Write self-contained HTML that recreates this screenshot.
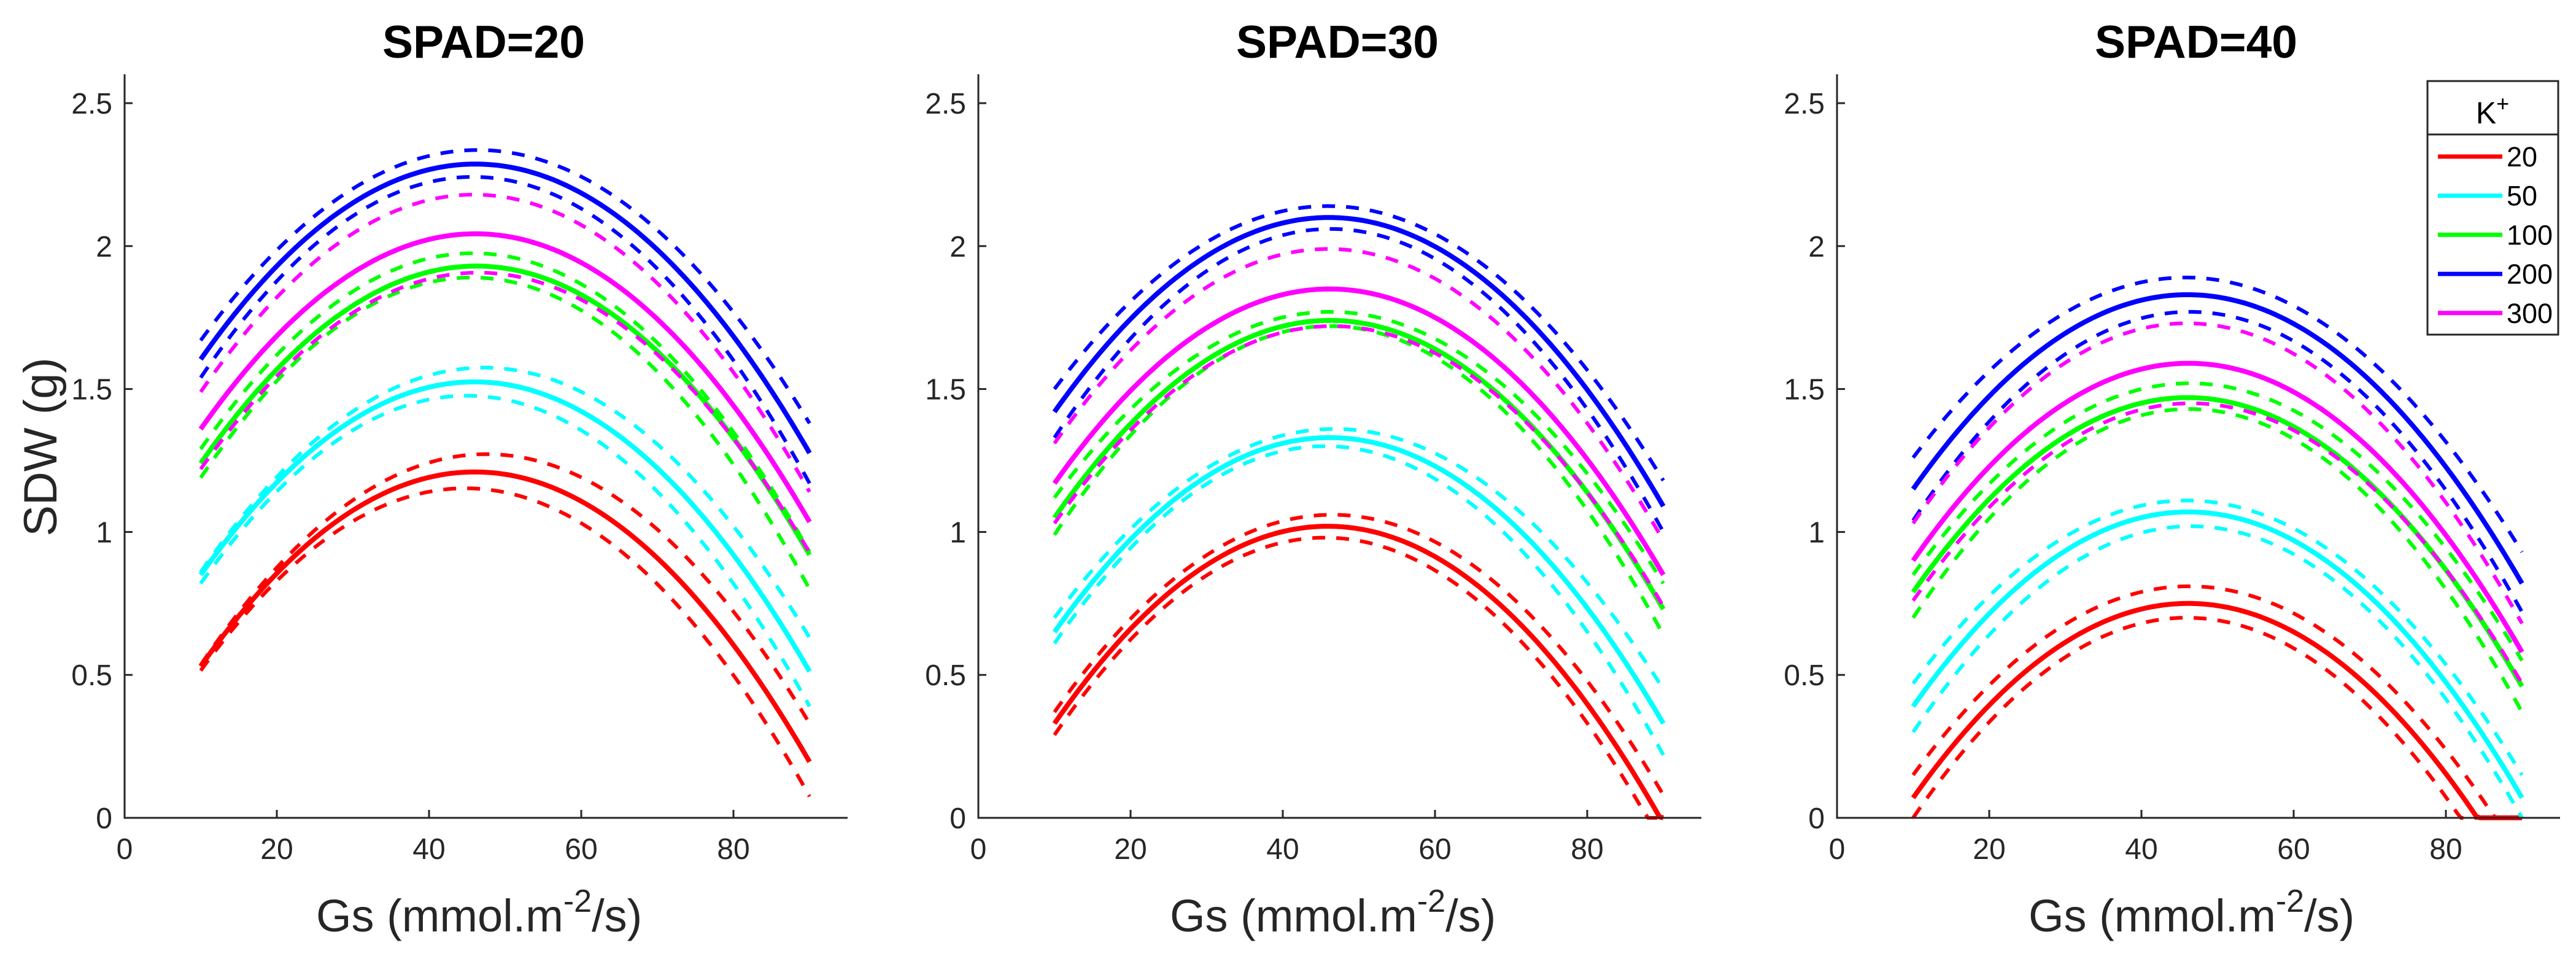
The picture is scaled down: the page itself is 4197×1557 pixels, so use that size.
<!DOCTYPE html>
<html><head><meta charset="utf-8"><style>
html,body{margin:0;padding:0;background:#fff}
svg{display:block;font-family:"Liberation Sans",Arial,sans-serif}
</style></head><body>
<svg id="fig" width="4197" height="1557" viewBox="0 0 4197 1557"></svg>
<script>
// ---- data ----
const panelTitles = ["SPAD=20","SPAD=30","SPAD=40"];
const seriesLabels = ["20","50","100","200","300"];
const seriesColors = ["#ff0000","#00ffff","#00ff00","#0000ff","#ff00ff"];
const xKnots = [10, 46, 90];
const xTicks = [0,20,40,60,80];
const yTicks = [0,0.5,1,1.5,2,2.5];
const yTickLabels = ["0","0.5","1","1.5","2","2.5"];
// values at x = 10, 46, 90 : [solid, upper dashed, lower dashed]
const p1_k20  = [[0.53,1.21,0.196],[0.535,1.271,0.33],[0.515,1.152,0.075]];
const p1_k50  = [[0.85,1.525,0.512],[0.86,1.574,0.63],[0.82,1.476,0.39]];
const p1_k100 = [[1.24,1.93,0.92],[1.29,1.975,0.93],[1.19,1.89,0.80]];
const p1_k200 = [[1.604,2.287,1.276],[1.67,2.336,1.38],[1.54,2.242,1.17]];
const p1_k300 = [[1.36,2.043,1.035],[1.49,2.18,1.14],[1.22,1.907,0.928]];
const p2_k20  = [[0.33,1.02,-0.02],[0.37,1.06,0.08],[0.29,0.98,-0.1]];
const p2_k50  = [[0.65,1.33,0.33],[0.70,1.36,0.45],[0.61,1.30,0.22]];
const p2_k100 = [[1.05,1.74,0.73],[1.12,1.77,0.82],[0.99,1.72,0.64]];
const p2_k200 = [[1.42,2.10,1.09],[1.50,2.14,1.18],[1.33,2.06,1.00]];
const p2_k300 = [[1.17,1.85,0.85],[1.31,1.99,0.97],[1.03,1.72,0.74]];
const p3_k20  = [[0.07,0.75,-0.25],[0.15,0.81,-0.15],[0.0,0.70,-0.35]];
const p3_k50  = [[0.39,1.07,0.07],[0.47,1.11,0.15],[0.30,1.02,0.0]];
const p3_k100 = [[0.79,1.47,0.46],[0.85,1.52,0.55],[0.70,1.43,0.37]];
const p3_k200 = [[1.15,1.83,0.82],[1.26,1.89,0.93],[1.04,1.77,0.72]];
const p3_k300 = [[0.90,1.59,0.58],[1.03,1.73,0.68],[0.76,1.45,0.47]];
const panelData = [
  [p1_k20,p1_k50,p1_k100,p1_k200,p1_k300],
  [p2_k20,p2_k50,p2_k100,p2_k200,p2_k300],
  [p3_k20,p3_k50,p3_k100,p3_k200,p3_k300]
];
// ---- layout ----
const NS="http://www.w3.org/2000/svg";
const svg=document.getElementById('fig');
const axLeft=[203,1594,2993];
const axBottom=1332, axTop=121, pxPerX=12.4, pxPerY=465.6, xMax=95;
function mk(tag,attrs,parent){const e=document.createElementNS(NS,tag);for(const k in attrs)e.setAttribute(k,attrs[k]);(parent||svg).appendChild(e);return e;}
function quad(v,x){const [x0,x1,x2]=xKnots;
  return v[0]*(x-x1)*(x-x2)/((x0-x1)*(x0-x2))+v[1]*(x-x0)*(x-x2)/((x1-x0)*(x1-x2))+v[2]*(x-x0)*(x-x1)/((x2-x0)*(x2-x1));}
panelData.forEach((series,pi)=>{
  const L=axLeft[pi];
  const sx=x=>L+x*pxPerX, sy=y=>axBottom-y*pxPerY;
  const g=mk('g',{});
  
  
  const cp=mk('clipPath',{id:'clip'+pi},g);
  mk('rect',{x:L,y:axTop,width:xMax*pxPerX,height:axBottom-axTop+4},cp);
  const lines=mk('g',{'clip-path':'url(#clip'+pi+')'},g);
  series.forEach((trip,si)=>{
    [1,2,0].forEach(li=>{
      const v=trip[li];let d='';
      for(let i=0;i<=160;i++){const x=10+80*i/160;let y=quad(v,x);if(y<0)y=0;d+=(i?'L':'M')+sx(x).toFixed(1)+','+sy(y).toFixed(1);}
      const p=mk('path',{d:d,fill:'none',stroke:seriesColors[si],'stroke-width':li===0?8:6,'stroke-dasharray':li===0?'none':'21 18'},lines);
      
      
    });
  });
  const ax=mk('path',{d:`M${L},${axTop}L${L},${axBottom}L${L+xMax*pxPerX},${axBottom}`,fill:'none',stroke:'#262626','stroke-width':3},g);
  
  
  xTicks.forEach(t=>{
    mk('line',{x1:sx(t),x2:sx(t),y1:axBottom,y2:axBottom-13,stroke:'#262626','stroke-width':3},g);
    const tx=mk('text',{x:sx(t),y:1399,'font-size':48,'text-anchor':'middle',fill:'#262626'},g);
    tx.textContent=t;
    
    
  });
  yTicks.forEach((t,i)=>{
    mk('line',{x1:L,x2:L+13,y1:sy(t),y2:sy(t),stroke:'#262626','stroke-width':3},g);
    const tx=mk('text',{x:L-20,y:sy(t)+17,'font-size':48,'text-anchor':'end',fill:'#262626'},g);
    tx.textContent=yTickLabels[i];
    
    
  });
  const ti=mk('text',{x:L+585,y:94,'font-size':75,'font-weight':'bold','text-anchor':'middle',fill:'#000'},g);
  ti.textContent=panelTitles[pi];
  
  
  const xl=mk('text',{x:L+312,y:1517,'font-size':74,fill:'#262626'},g);
  xl.innerHTML='Gs (mmol.m<tspan dy="-32" font-size="52">-2</tspan><tspan dy="32">/s)</tspan>';
  
  
});
const yl=mk('text',{x:0,y:0,'font-size':76,'text-anchor':'middle',fill:'#262626',transform:'translate(92,728) rotate(-90)'});
yl.textContent='SDW (g)';


// legend
const lg=mk('g',{});


mk('rect',{x:3955,y:132,width:213,height:413,fill:'#fff',stroke:'#262626','stroke-width':3},lg);
mk('line',{x1:3955,x2:4168,y1:219,y2:219,stroke:'#262626','stroke-width':3},lg);
const lt=mk('text',{x:4061,y:201,'font-size':50,'text-anchor':'middle',fill:'#000'},lg);
lt.innerHTML='K<tspan dy="-20" font-size="36">+</tspan>';


seriesLabels.forEach((s,i)=>{
  const y=255+i*63.7;
  const e=mk('g',{},lg);
  
  
  mk('line',{x1:3972,x2:4077,y1:y,y2:y,stroke:seriesColors[i],'stroke-width':7},e);
  const t=mk('text',{x:4084,y:y+16,'font-size':45,fill:'#000',textLength:s.length*25,lengthAdjust:'spacingAndGlyphs'},e);
  t.textContent=s;
});
</script>
</body></html>
